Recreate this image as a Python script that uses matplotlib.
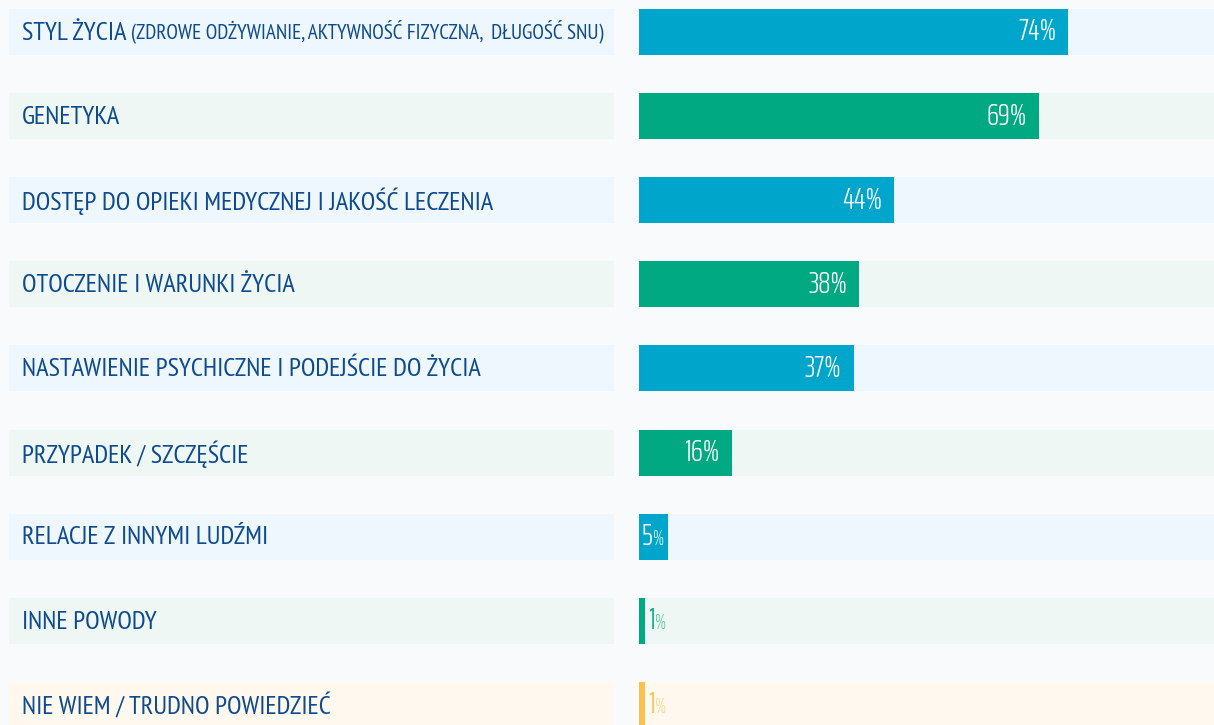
import matplotlib
import matplotlib.pyplot as plt

matplotlib.use('Agg')

# data
categories = [
    "STYL ŻYCIA",
    "GENETYKA",
    "DOSTĘP DO OPIEKI MEDYCZNEJ I JAKOŚĆ LECZENIA",
    "OTOCZENIE I WARUNKI ŻYCIA",
    "NASTAWIENIE PSYCHICZNE I PODEJŚCIE DO ŻYCIA",
    "PRZYPADEK / SZCZĘŚCIE",
    "RELACJE Z INNYMI LUDŹMI",
    "INNE POWODY",
    "NIE WIEM / TRUDNO POWIEDZIEĆ",
]
subtitles = ["(ZDROWE ODŻYWIANIE, AKTYWNOŚĆ FIZYCZNA,  DŁUGOŚĆ SNU)",
             "", "", "", "", "", "", "", ""]
values = [74, 69, 44, 38, 37, 16, 5, 1, 1]
kinds = ["blue", "green", "blue", "green", "blue", "green", "blue", "green", "yellow"]

BAR = {"blue": "#00a5cc", "green": "#00a982", "yellow": "#fcc04c"}
TRACK = {"blue": "#eef6fe", "green": "#eef7f3", "yellow": "#fff8ee"}
SOFT = {"blue": "#8fdcef", "green": "#5fcaa8", "yellow": "#fdd98f"}
BG = "#f8fafc"
NAVY = "#0d4a8f"
LABEL_FONT = ['PT Sans Narrow', 'DejaVu Sans']
VALUE_FONT = ['Saira ExtraCondensed', 'PT Sans Narrow', 'DejaVu Sans']

W, H = 1214, 725
pitch = 84.1
first = 32
ylim = ((H - first) / pitch, -first / pitch)
bar_h = 46 / pitch

fig = plt.figure(figsize=(W / 100, H / 100), dpi=100, facecolor=BG)

# label column
axl = fig.add_axes([9 / W, 0, 605 / W, 1])
axl.set_xlim(0, 1)
axl.set_ylim(*ylim)
axl.axis('off')

# bar column, 100% = 580 px, cut at the right edge
axr = fig.add_axes([639 / W, 0, 575 / W, 1])
axr.set_xlim(0, 100 * 575 / 580)
axr.set_ylim(*ylim)
axr.axis('off')

rows = range(len(categories))
axl.barh(rows, 1, height=bar_h, left=0, color=[TRACK[k] for k in kinds])
axr.barh(rows, 100, height=bar_h, color=[TRACK[k] for k in kinds])
axr.barh(rows, values, height=bar_h, color=[BAR[k] for k in kinds])

for i, (cat, sub) in enumerate(zip(categories, subtitles)):
    t = axl.annotate(cat, xy=(13 / 605, i), xytext=(0, -1), textcoords='offset points',
                     va='center', ha='left', color=NAVY,
                     fontsize=19, family=LABEL_FONT)
    if sub:
        axl.annotate(sub, xy=(1, 0), xycoords=t, xytext=(3, 1.2),
                     textcoords='offset points', va='bottom', ha='left',
                     color=NAVY, fontsize=15.2, family=LABEL_FONT)

for i, (v, k) in enumerate(zip(values, kinds)):
    if v >= 10:
        axr.annotate(f"{v}%", xy=(v, i), xytext=(-8.6, 0), textcoords='offset points',
                     va='center', ha='right', color='white', fontsize=22,
                     family=VALUE_FONT, fontweight=300)
    else:
        inside = v >= 4
        x0 = 0 if inside else v
        col = 'white' if inside else BAR[k]
        pcol = '#d8f3fa' if inside else SOFT[k]
        t = axr.annotate(f"{v}", xy=(x0, i), xytext=(2.2, 0), textcoords='offset points',
                         va='center', ha='left', color=col, fontsize=22,
                         family=VALUE_FONT, fontweight=300)
        axr.annotate("%", xy=(1, 0), xycoords=t, xytext=(0.3, 1.5),
                     textcoords='offset points', va='bottom', ha='left',
                     color=pcol, fontsize=15, family=VALUE_FONT, fontweight=300)

fig.savefig("out.png", dpi=100, facecolor=BG)
